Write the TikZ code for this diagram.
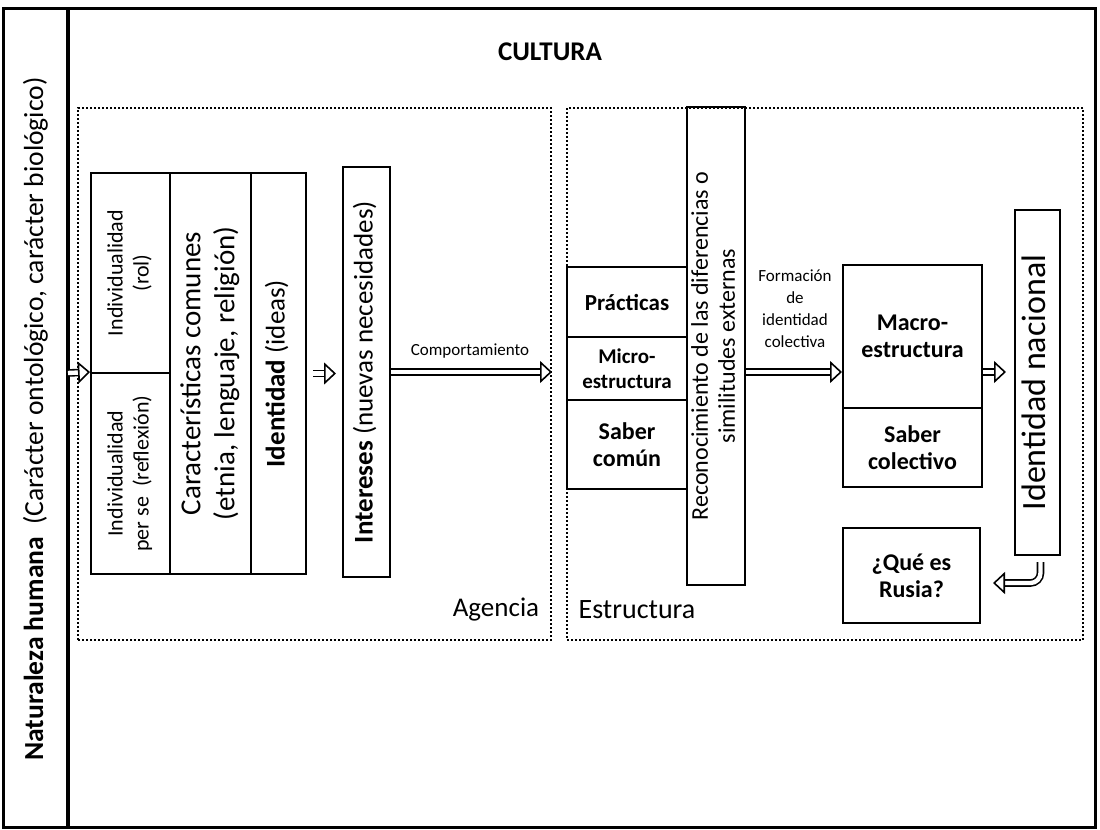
\documentclass[tikz,border=0pt]{standalone}
\usepackage{fontspec}
\setmainfont{Carlito}
\usepackage{graphicx}
\usetikzlibrary{arrows.meta}
\newcommand{\sz}[2]{\fontsize{#1}{#2}\selectfont}
\newcommand{\vtext}[1]{\rotatebox{90}{\begin{tabular}{@{}c@{}}#1\end{tabular}}}

\begin{document}
\begin{tikzpicture}[x=0.5pt, y=-0.5pt,
    cell/.style={draw, line width=1pt, inner sep=0pt, align=center},
    dotbox/.style={draw, line width=1pt, dash pattern=on 1pt off 1pt, inner sep=0pt},
    hollow/.style={double, double distance=2.2pt, line width=0.8pt,
      -{Triangle[open, fill=white, length=6pt, width=11pt, line width=0.8pt]}}]
  \useasboundingbox (0,0) rectangle (1100,830);
  \draw[line width=1.5pt] (3,8) rectangle (1095,827);
  \draw[line width=2pt] (68,8) -- (68,827);
  \node[font=\sz{13.8}{16}] (nat) at (35.5,419)
    {\rotatebox{90}{\textbf{Naturaleza humana}~ (Carácter ontológico, carácter biológico)}};
  \node[font=\bfseries\sz{13.5}{16}] (cult) at (550,52) {CULTURA};

  \node[dotbox, minimum width=236.5pt, minimum height=266pt] (agen) at (314.5,374) {};
  \node[dotbox, minimum width=258pt, minimum height=266pt] (estr) at (825,374) {};
  \node[font=\sz{13.5}{16}] (agl) at (496,610) {Agencia};
  \node[font=\sz{14}{16}] (esl) at (637,610) {Estructura};

  \node[cell, minimum width=39.5pt, minimum height=100pt, font=\sz{11}{13}] (indrol) at (130.5,273)
    {\vtext{Individualidad\\(rol)}};
  \node[cell, minimum width=39.5pt, minimum height=100.5pt, font=\sz{11}{13}] (indper) at (130.5,473.5)
    {\vtext{Individualidad\\per se~ (reflexión)}};
  \node[cell, minimum width=40.5pt, minimum height=200.5pt, font=\sz{14.5}{17}] (caract) at (210.5,373.5)
    {\vtext{Características comunes\\(etnia, lenguaje, religión)}};
  \node[cell, minimum width=27.5pt, minimum height=200.5pt, font=\sz{13.5}{15}] (ident) at (278.5,373.5)
    {\vtext{\textbf{Identidad} (ideas)}};
  \node[cell, minimum width=23.5pt, minimum height=205pt, font=\sz{13.5}{15}] (inter) at (366.5,372)
    {\vtext{\textbf{Intereses} (nuevas necesidades)}};

  \node[cell, minimum width=60pt, minimum height=35pt, font=\bfseries\sz{11.5}{13}] (pract) at (627,302) {Prácticas};
  \node[cell, minimum width=60pt, minimum height=31.5pt, font=\bfseries\sz{10.5}{12.5}] (micro) at (627,368.5) {Micro-\\estructura};
  \node[cell, minimum width=60pt, minimum height=44.5pt, font=\bfseries\sz{12}{13.5}] (sabcom) at (627,444.5) {Saber\\común};
  \node[cell, minimum width=29pt, minimum height=239pt, font=\sz{12}{13.5}] (recon) at (716,346)
    {\vtext{Reconocimiento de las diferencias o\\similitudes externas}};

  \node[cell, minimum width=69.5pt, minimum height=71.5pt, font=\bfseries\sz{12}{13.5}] (macro) at (912.5,336.5) {Macro-\\estructura};
  \node[cell, minimum width=69.5pt, minimum height=39.5pt, font=\bfseries\sz{12}{13.5}] (sabcol) at (912.5,447.5) {Saber\\colectivo};
  \node[cell, minimum width=22.5pt, minimum height=172.5pt, font=\sz{17}{20}] (idnac) at (1037.5,382.5)
    {\vtext{Identidad nacional}};
  \node[cell, minimum width=68.5pt, minimum height=47.5pt, font=\bfseries\sz{12}{13.5}] (rusia) at (911.5,575.5) {¿Qué es\\Rusia?};

  \node[font=\sz{8.5}{10}] (comp) at (470,351) {Comportamiento};
  \node[font=\sz{8.5}{11}, align=center] (form) at (795,309) {Formación\\de\\identidad\\colectiva};

  \coordinate (natr) at (68,373);
  \draw[hollow] (natr) -- (indper.north west);
  \draw[hollow, shorten <=3pt, shorten >=3pt] (ident.east) -- (inter.west |- ident.east);
  \draw[hollow] (inter.east) -- (agen.east |- inter.east);
  \draw[hollow] (recon.east |- inter.east) -- (macro.west |- inter.east);
  \draw[hollow, shorten >=4pt] (macro.east |- inter.east) -- (idnac.west |- inter.east);
  \draw[hollow, rounded corners=5pt, shorten <=3pt, shorten >=6pt] ([xshift=1.5pt]idnac.south) |- ([yshift=-3.75pt]rusia.east);
\end{tikzpicture}
\end{document}
